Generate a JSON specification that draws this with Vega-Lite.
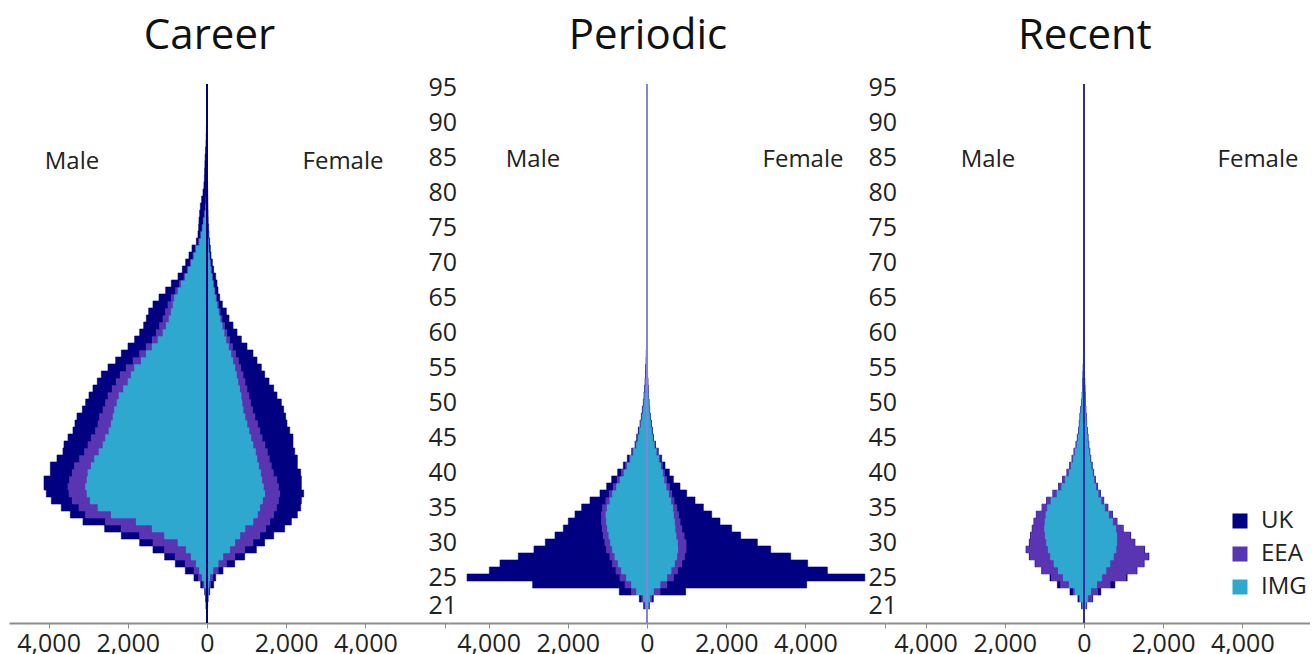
{
  "$schema": "https://vega.github.io/schema/vega-lite/v6.json",
  "background": "white",
  "padding": {"left": 9, "top": 15, "right": 0, "bottom": 0},
  "bounds": "flush",
  "spacing": 0,
  "config": {
    "view": {"stroke": null},
    "font": "Open Sans",
    "axis": {"grid": false, "labelFont": "Open Sans", "labelFontSize": 25, "labelColor": "#222"},
    "title": {"font": "Open Sans", "fontSize": 42, "fontWeight": "normal", "color": "#111"}
  },
  "resolve": {"scale": {"x": "independent", "y": "independent", "color": "shared", "stroke": "shared"}, "axis": {"x": "independent", "y": "independent"}},
  "datasets": {
    "career": [
      {"age":21,"sex":"M","IMG":-10,"EEA":-5,"UK":-10},{"age":22,"sex":"M","IMG":-15,"EEA":-8,"UK":-11},{"age":23,"sex":"M","IMG":-17,"EEA":-17,"UK":-25},{"age":24,"sex":"M","IMG":-59,"EEA":-42,"UK":-59},{"age":25,"sex":"M","IMG":-118,"EEA":-92,"UK":-118},{"age":26,"sex":"M","IMG":-185,"EEA":-143,"UK":-219},{"age":27,"sex":"M","IMG":-269,"EEA":-278,"UK":-253},{"age":28,"sex":"M","IMG":-396,"EEA":-404,"UK":-269},{"age":29,"sex":"M","IMG":-522,"EEA":-547,"UK":-295},{"age":30,"sex":"M","IMG":-732,"EEA":-632,"UK":-336},{"age":31,"sex":"M","IMG":-1069,"EEA":-631,"UK":-463},{"age":32,"sex":"M","IMG":-1381,"EEA":-782,"UK":-421},{"age":33,"sex":"M","IMG":-1785,"EEA":-774,"UK":-572},{"age":34,"sex":"M","IMG":-2416,"EEA":-648,"UK":-387},{"age":35,"sex":"M","IMG":-2753,"EEA":-480,"UK":-446},{"age":36,"sex":"M","IMG":-2946,"EEA":-455,"UK":-530},{"age":37,"sex":"M","IMG":-3030,"EEA":-455,"UK":-572},{"age":38,"sex":"M","IMG":-3064,"EEA":-446,"UK":-606},{"age":39,"sex":"M","IMG":-3030,"EEA":-438,"UK":-648},{"age":40,"sex":"M","IMG":-3005,"EEA":-396,"UK":-555},{"age":41,"sex":"M","IMG":-2921,"EEA":-421,"UK":-614},{"age":42,"sex":"M","IMG":-2837,"EEA":-379,"UK":-572},{"age":43,"sex":"M","IMG":-2727,"EEA":-362,"UK":-548},{"age":44,"sex":"M","IMG":-2626,"EEA":-379,"UK":-606},{"age":45,"sex":"M","IMG":-2559,"EEA":-362,"UK":-589},{"age":46,"sex":"M","IMG":-2475,"EEA":-337,"UK":-572},{"age":47,"sex":"M","IMG":-2416,"EEA":-337,"UK":-581},{"age":48,"sex":"M","IMG":-2374,"EEA":-337,"UK":-572},{"age":49,"sex":"M","IMG":-2332,"EEA":-294,"UK":-522},{"age":50,"sex":"M","IMG":-2273,"EEA":-286,"UK":-505},{"age":51,"sex":"M","IMG":-2222,"EEA":-278,"UK":-480},{"age":52,"sex":"M","IMG":-2105,"EEA":-286,"UK":-488},{"age":53,"sex":"M","IMG":-1995,"EEA":-295,"UK":-480},{"age":54,"sex":"M","IMG":-1911,"EEA":-278,"UK":-480},{"age":55,"sex":"M","IMG":-1827,"EEA":-210,"UK":-463},{"age":56,"sex":"M","IMG":-1658,"EEA":-211,"UK":-438},{"age":57,"sex":"M","IMG":-1532,"EEA":-168,"UK":-463},{"age":58,"sex":"M","IMG":-1381,"EEA":-151,"UK":-463},{"age":59,"sex":"M","IMG":-1237,"EEA":-144,"UK":-446},{"age":60,"sex":"M","IMG":-1111,"EEA":-169,"UK":-420},{"age":61,"sex":"M","IMG":-1027,"EEA":-168,"UK":-404},{"age":62,"sex":"M","IMG":-960,"EEA":-151,"UK":-421},{"age":63,"sex":"M","IMG":-901,"EEA":-143,"UK":-429},{"age":64,"sex":"M","IMG":-859,"EEA":-126,"UK":-379},{"age":65,"sex":"M","IMG":-817,"EEA":-84,"UK":-311},{"age":66,"sex":"M","IMG":-732,"EEA":-59,"UK":-253},{"age":67,"sex":"M","IMG":-648,"EEA":-42,"UK":-211},{"age":68,"sex":"M","IMG":-547,"EEA":-34,"UK":-151},{"age":69,"sex":"M","IMG":-471,"EEA":-26,"UK":-126},{"age":70,"sex":"M","IMG":-396,"EEA":-25,"UK":-118},{"age":71,"sex":"M","IMG":-328,"EEA":-26,"UK":-101},{"age":72,"sex":"M","IMG":-269,"EEA":-26,"UK":-84},{"age":73,"sex":"M","IMG":-185,"EEA":-25,"UK":-59},{"age":74,"sex":"M","IMG":-143,"EEA":-17,"UK":-67},{"age":75,"sex":"M","IMG":-109,"EEA":-17,"UK":-84},{"age":76,"sex":"M","IMG":-84,"EEA":-9,"UK":-109},{"age":77,"sex":"M","IMG":-51,"EEA":-16,"UK":-118},{"age":78,"sex":"M","IMG":-25,"EEA":-17,"UK":-126},{"age":79,"sex":"M","IMG":-17,"EEA":-8,"UK":-110},{"age":80,"sex":"M","IMG":-8,"EEA":-8,"UK":-85},{"age":81,"sex":"M","IMG":-5,"EEA":-3,"UK":-70},{"age":82,"sex":"M","IMG":-4,"EEA":-2,"UK":-60},{"age":83,"sex":"M","IMG":-3,"EEA":-2,"UK":-55},{"age":84,"sex":"M","IMG":-2,"EEA":-1,"UK":-50},{"age":85,"sex":"M","IMG":-2,"EEA":-1,"UK":-45},{"age":86,"sex":"M","IMG":-1,"EEA":-1,"UK":-35},{"age":87,"sex":"M","IMG":-1,"EEA":0,"UK":-25},{"age":88,"sex":"M","IMG":0,"EEA":0,"UK":-20},{"age":89,"sex":"M","IMG":0,"EEA":0,"UK":-15},{"age":90,"sex":"M","IMG":0,"EEA":0,"UK":-12},{"age":91,"sex":"M","IMG":0,"EEA":0,"UK":-10},{"age":92,"sex":"M","IMG":0,"EEA":0,"UK":-8},{"age":93,"sex":"M","IMG":0,"EEA":0,"UK":-6},{"age":94,"sex":"M","IMG":0,"EEA":0,"UK":-5},{"age":95,"sex":"M","IMG":0,"EEA":0,"UK":-4},
      {"age":21,"sex":"F","IMG":8,"EEA":3,"UK":4},{"age":22,"sex":"F","IMG":15,"EEA":5,"UK":5},{"age":23,"sex":"F","IMG":30,"EEA":20,"UK":17},{"age":24,"sex":"F","IMG":40,"EEA":50,"UK":78},{"age":25,"sex":"F","IMG":70,"EEA":80,"UK":69},{"age":26,"sex":"F","IMG":150,"EEA":130,"UK":124},{"age":27,"sex":"F","IMG":280,"EEA":210,"UK":209},{"age":28,"sex":"F","IMG":400,"EEA":300,"UK":251},{"age":29,"sex":"F","IMG":570,"EEA":380,"UK":296},{"age":30,"sex":"F","IMG":700,"EEA":460,"UK":296},{"age":31,"sex":"F","IMG":830,"EEA":500,"UK":354},{"age":32,"sex":"F","IMG":960,"EEA":520,"UK":481},{"age":33,"sex":"F","IMG":1160,"EEA":425,"UK":545},{"age":34,"sex":"F","IMG":1270,"EEA":410,"UK":601},{"age":35,"sex":"F","IMG":1330,"EEA":420,"UK":615},{"age":36,"sex":"F","IMG":1400,"EEA":400,"UK":582},{"age":37,"sex":"F","IMG":1456,"EEA":379,"UK":606},{"age":38,"sex":"F","IMG":1420,"EEA":380,"UK":582},{"age":39,"sex":"F","IMG":1380,"EEA":380,"UK":622},{"age":40,"sex":"F","IMG":1350,"EEA":320,"UK":695},{"age":41,"sex":"F","IMG":1300,"EEA":320,"UK":661},{"age":42,"sex":"F","IMG":1260,"EEA":310,"UK":711},{"age":43,"sex":"F","IMG":1220,"EEA":300,"UK":694},{"age":44,"sex":"F","IMG":1160,"EEA":300,"UK":712},{"age":45,"sex":"F","IMG":1110,"EEA":280,"UK":782},{"age":46,"sex":"F","IMG":1060,"EEA":270,"UK":758},{"age":47,"sex":"F","IMG":1010,"EEA":260,"UK":750},{"age":48,"sex":"F","IMG":960,"EEA":250,"UK":777},{"age":49,"sex":"F","IMG":910,"EEA":240,"UK":786},{"age":50,"sex":"F","IMG":880,"EEA":220,"UK":777},{"age":51,"sex":"F","IMG":860,"EEA":200,"UK":708},{"age":52,"sex":"F","IMG":820,"EEA":190,"UK":674},{"age":53,"sex":"F","IMG":780,"EEA":180,"UK":606},{"age":54,"sex":"F","IMG":740,"EEA":170,"UK":546},{"age":55,"sex":"F","IMG":700,"EEA":150,"UK":522},{"age":56,"sex":"F","IMG":650,"EEA":140,"UK":473},{"age":57,"sex":"F","IMG":600,"EEA":120,"UK":442},{"age":58,"sex":"F","IMG":540,"EEA":100,"UK":370},{"age":59,"sex":"F","IMG":480,"EEA":90,"UK":297},{"age":60,"sex":"F","IMG":430,"EEA":70,"UK":258},{"age":61,"sex":"F","IMG":380,"EEA":60,"UK":217},{"age":62,"sex":"F","IMG":330,"EEA":50,"UK":176},{"age":63,"sex":"F","IMG":290,"EEA":40,"UK":158},{"age":64,"sex":"F","IMG":250,"EEA":35,"UK":102},{"age":65,"sex":"F","IMG":210,"EEA":30,"UK":80},{"age":66,"sex":"F","IMG":180,"EEA":20,"UK":78},{"age":67,"sex":"F","IMG":150,"EEA":20,"UK":83},{"age":68,"sex":"F","IMG":120,"EEA":15,"UK":84},{"age":69,"sex":"F","IMG":95,"EEA":10,"UK":63},{"age":70,"sex":"F","IMG":75,"EEA":7,"UK":53},{"age":71,"sex":"F","IMG":55,"EEA":5,"UK":41},{"age":72,"sex":"F","IMG":40,"EEA":4,"UK":40},{"age":73,"sex":"F","IMG":30,"EEA":3,"UK":34},{"age":74,"sex":"F","IMG":20,"EEA":2,"UK":28},{"age":75,"sex":"F","IMG":12,"EEA":2,"UK":26},{"age":76,"sex":"F","IMG":5,"EEA":1,"UK":24},{"age":77,"sex":"F","IMG":4,"EEA":1,"UK":22},{"age":78,"sex":"F","IMG":3,"EEA":1,"UK":20},{"age":79,"sex":"F","IMG":2,"EEA":1,"UK":18},{"age":80,"sex":"F","IMG":2,"EEA":0,"UK":16},{"age":81,"sex":"F","IMG":1,"EEA":0,"UK":14},{"age":82,"sex":"F","IMG":1,"EEA":0,"UK":12},{"age":83,"sex":"F","IMG":0,"EEA":0,"UK":10},{"age":84,"sex":"F","IMG":0,"EEA":0,"UK":9},{"age":85,"sex":"F","IMG":0,"EEA":0,"UK":8},{"age":86,"sex":"F","IMG":0,"EEA":0,"UK":7},{"age":87,"sex":"F","IMG":0,"EEA":0,"UK":5},{"age":88,"sex":"F","IMG":0,"EEA":0,"UK":4},{"age":89,"sex":"F","IMG":0,"EEA":0,"UK":3},{"age":90,"sex":"F","IMG":0,"EEA":0,"UK":3},{"age":91,"sex":"F","IMG":0,"EEA":0,"UK":2},{"age":92,"sex":"F","IMG":0,"EEA":0,"UK":2},{"age":93,"sex":"F","IMG":0,"EEA":0,"UK":2},{"age":94,"sex":"F","IMG":0,"EEA":0,"UK":2},{"age":95,"sex":"F","IMG":0,"EEA":0,"UK":2}
    ],
    "periodic": [
      {"age":21,"sex":"M","IMG":-40,"EEA":-15,"UK":-30},{"age":22,"sex":"M","IMG":-90,"EEA":-40,"UK":-64},{"age":23,"sex":"M","IMG":-261,"EEA":-127,"UK":-311},{"age":24,"sex":"M","IMG":-388,"EEA":-168,"UK":-2331},{"age":25,"sex":"M","IMG":-514,"EEA":-169,"UK":-3861},{"age":26,"sex":"M","IMG":-641,"EEA":-143,"UK":-3197},{"age":27,"sex":"M","IMG":-725,"EEA":-143,"UK":-2844},{"age":28,"sex":"M","IMG":-809,"EEA":-127,"UK":-2314},{"age":29,"sex":"M","IMG":-868,"EEA":-152,"UK":-1834},{"age":30,"sex":"M","IMG":-919,"EEA":-143,"UK":-1505},{"age":31,"sex":"M","IMG":-961,"EEA":-143,"UK":-1219},{"age":32,"sex":"M","IMG":-995,"EEA":-135,"UK":-983},{"age":33,"sex":"M","IMG":-1020,"EEA":-126,"UK":-841},{"age":34,"sex":"M","IMG":-1037,"EEA":-109,"UK":-672},{"age":35,"sex":"M","IMG":-1003,"EEA":-118,"UK":-529},{"age":36,"sex":"M","IMG":-936,"EEA":-101,"UK":-402},{"age":37,"sex":"M","IMG":-868,"EEA":-85,"UK":-234},{"age":38,"sex":"M","IMG":-766,"EEA":-84,"UK":-168},{"age":39,"sex":"M","IMG":-682,"EEA":-67,"UK":-143},{"age":40,"sex":"M","IMG":-581,"EEA":-59,"UK":-100},{"age":41,"sex":"M","IMG":-497,"EEA":-42,"UK":-59},{"age":42,"sex":"M","IMG":-412,"EEA":-34,"UK":-51},{"age":43,"sex":"M","IMG":-337,"EEA":-25,"UK":-25},{"age":44,"sex":"M","IMG":-261,"EEA":-25,"UK":-17},{"age":45,"sex":"M","IMG":-220,"EEA":-16,"UK":-25},{"age":46,"sex":"M","IMG":-185,"EEA":-14,"UK":-20},{"age":47,"sex":"M","IMG":-150,"EEA":-12,"UK":-15},{"age":48,"sex":"M","IMG":-120,"EEA":-10,"UK":-13},{"age":49,"sex":"M","IMG":-95,"EEA":-8,"UK":-15},{"age":50,"sex":"M","IMG":-75,"EEA":-6,"UK":-12},{"age":51,"sex":"M","IMG":-60,"EEA":-5,"UK":-11},{"age":52,"sex":"M","IMG":-45,"EEA":-4,"UK":-10},{"age":53,"sex":"M","IMG":-35,"EEA":-3,"UK":-12},{"age":54,"sex":"M","IMG":-25,"EEA":-2,"UK":-12},{"age":55,"sex":"M","IMG":-18,"EEA":-2,"UK":-12},{"age":56,"sex":"M","IMG":-12,"EEA":-1,"UK":-12},{"age":57,"sex":"M","IMG":-8,"EEA":-1,"UK":-10},{"age":58,"sex":"M","IMG":-4,"EEA":-1,"UK":-6},{"age":59,"sex":"M","IMG":-2,"EEA":0,"UK":-3},
      {"age":21,"sex":"F","IMG":30,"EEA":10,"UK":20},{"age":22,"sex":"F","IMG":76,"EEA":42,"UK":42},{"age":23,"sex":"F","IMG":160,"EEA":169,"UK":647},{"age":24,"sex":"F","IMG":329,"EEA":168,"UK":3535},{"age":25,"sex":"F","IMG":497,"EEA":169,"UK":4834},{"age":26,"sex":"F","IMG":607,"EEA":160,"UK":3787},{"age":27,"sex":"F","IMG":691,"EEA":186,"UK":3180},{"age":28,"sex":"F","IMG":750,"EEA":194,"UK":2684},{"age":29,"sex":"F","IMG":776,"EEA":210,"UK":2137},{"age":30,"sex":"F","IMG":767,"EEA":219,"UK":1800},{"age":31,"sex":"F","IMG":733,"EEA":203,"UK":1429},{"age":32,"sex":"F","IMG":708,"EEA":169,"UK":1261},{"age":33,"sex":"F","IMG":691,"EEA":144,"UK":1008},{"age":34,"sex":"F","IMG":666,"EEA":127,"UK":840},{"age":35,"sex":"F","IMG":649,"EEA":101,"UK":673},{"age":36,"sex":"F","IMG":599,"EEA":84,"UK":529},{"age":37,"sex":"F","IMG":540,"EEA":84,"UK":378},{"age":38,"sex":"F","IMG":481,"EEA":84,"UK":268},{"age":39,"sex":"F","IMG":430,"EEA":67,"UK":168},{"age":40,"sex":"F","IMG":388,"EEA":50,"UK":126},{"age":41,"sex":"F","IMG":340,"EEA":45,"UK":70},{"age":42,"sex":"F","IMG":290,"EEA":40,"UK":40},{"age":43,"sex":"F","IMG":230,"EEA":30,"UK":25},{"age":44,"sex":"F","IMG":180,"EEA":20,"UK":15},{"age":45,"sex":"F","IMG":140,"EEA":15,"UK":10},{"age":46,"sex":"F","IMG":115,"EEA":10,"UK":10},{"age":47,"sex":"F","IMG":92,"EEA":8,"UK":10},{"age":48,"sex":"F","IMG":70,"EEA":6,"UK":8},{"age":49,"sex":"F","IMG":55,"EEA":5,"UK":7},{"age":50,"sex":"F","IMG":40,"EEA":4,"UK":6},{"age":51,"sex":"F","IMG":30,"EEA":3,"UK":5},{"age":52,"sex":"F","IMG":22,"EEA":2,"UK":5},{"age":53,"sex":"F","IMG":15,"EEA":1,"UK":5},{"age":54,"sex":"F","IMG":10,"EEA":1,"UK":4},{"age":55,"sex":"F","IMG":6,"EEA":1,"UK":4},{"age":56,"sex":"F","IMG":3,"EEA":0,"UK":3},{"age":57,"sex":"F","IMG":2,"EEA":0,"UK":2}
    ],
    "recent": [
      {"age":21,"sex":"M","IMG":-30,"EEA":-20,"UK":-10},{"age":22,"sex":"M","IMG":-101,"EEA":-22,"UK":-30},{"age":23,"sex":"M","IMG":-227,"EEA":-47,"UK":-80},{"age":24,"sex":"M","IMG":-370,"EEA":-223,"UK":-80},{"age":25,"sex":"M","IMG":-522,"EEA":-297,"UK":-40},{"age":26,"sex":"M","IMG":-648,"EEA":-396,"UK":-25},{"age":27,"sex":"M","IMG":-758,"EEA":-459,"UK":-20},{"age":28,"sex":"M","IMG":-842,"EEA":-519,"UK":-20},{"age":29,"sex":"M","IMG":-901,"EEA":-549,"UK":-15},{"age":30,"sex":"M","IMG":-943,"EEA":-423,"UK":-15},{"age":31,"sex":"M","IMG":-976,"EEA":-359,"UK":-15},{"age":32,"sex":"M","IMG":-993,"EEA":-302,"UK":-15},{"age":33,"sex":"M","IMG":-985,"EEA":-268,"UK":-12},{"age":34,"sex":"M","IMG":-960,"EEA":-233,"UK":-12},{"age":35,"sex":"M","IMG":-918,"EEA":-132,"UK":-10},{"age":36,"sex":"M","IMG":-830,"EEA":-103,"UK":-10},{"age":37,"sex":"M","IMG":-680,"EEA":-97,"UK":-8},{"age":38,"sex":"M","IMG":-560,"EEA":-72,"UK":-8},{"age":39,"sex":"M","IMG":-470,"EEA":-64,"UK":-6},{"age":40,"sex":"M","IMG":-375,"EEA":-49,"UK":-6},{"age":41,"sex":"M","IMG":-320,"EEA":-35,"UK":-5},{"age":42,"sex":"M","IMG":-265,"EEA":-31,"UK":-4},{"age":43,"sex":"M","IMG":-220,"EEA":-26,"UK":-4},{"age":44,"sex":"M","IMG":-175,"EEA":-22,"UK":-3},{"age":45,"sex":"M","IMG":-147,"EEA":-18,"UK":-3},{"age":46,"sex":"M","IMG":-118,"EEA":-14,"UK":-3},{"age":47,"sex":"M","IMG":-103,"EEA":-12,"UK":-3},{"age":48,"sex":"M","IMG":-87,"EEA":-10,"UK":-3},{"age":49,"sex":"M","IMG":-69,"EEA":-8,"UK":-3},{"age":50,"sex":"M","IMG":-51,"EEA":-6,"UK":-3},{"age":51,"sex":"M","IMG":-37,"EEA":-5,"UK":-3},{"age":52,"sex":"M","IMG":-28,"EEA":-4,"UK":-3},{"age":53,"sex":"M","IMG":-22,"EEA":-3,"UK":-3},{"age":54,"sex":"M","IMG":-17,"EEA":-2,"UK":-3},{"age":55,"sex":"M","IMG":-13,"EEA":-2,"UK":-3},{"age":56,"sex":"M","IMG":-10,"EEA":-2,"UK":-2},{"age":57,"sex":"M","IMG":-7,"EEA":-1,"UK":-2},{"age":58,"sex":"M","IMG":-5,"EEA":-1,"UK":-1},{"age":59,"sex":"M","IMG":-3,"EEA":-1,"UK":-1},{"age":60,"sex":"M","IMG":-2,"EEA":-1,"UK":-1},
      {"age":21,"sex":"F","IMG":40,"EEA":17,"UK":10},{"age":22,"sex":"F","IMG":84,"EEA":115,"UK":20},{"age":23,"sex":"F","IMG":168,"EEA":177,"UK":80},{"age":24,"sex":"F","IMG":320,"EEA":340,"UK":120},{"age":25,"sex":"F","IMG":446,"EEA":614,"UK":30},{"age":26,"sex":"F","IMG":556,"EEA":764,"UK":20},{"age":27,"sex":"F","IMG":657,"EEA":843,"UK":20},{"age":28,"sex":"F","IMG":741,"EEA":879,"UK":20},{"age":29,"sex":"F","IMG":808,"EEA":707,"UK":15},{"age":30,"sex":"F","IMG":825,"EEA":448,"UK":15},{"age":31,"sex":"F","IMG":825,"EEA":340,"UK":15},{"age":32,"sex":"F","IMG":800,"EEA":178,"UK":12},{"age":33,"sex":"F","IMG":720,"EEA":103,"UK":12},{"age":34,"sex":"F","IMG":620,"EEA":90,"UK":10},{"age":35,"sex":"F","IMG":520,"EEA":75,"UK":10},{"age":36,"sex":"F","IMG":430,"EEA":62,"UK":8},{"age":37,"sex":"F","IMG":355,"EEA":52,"UK":8},{"age":38,"sex":"F","IMG":295,"EEA":44,"UK":6},{"age":39,"sex":"F","IMG":250,"EEA":34,"UK":6},{"age":40,"sex":"F","IMG":210,"EEA":30,"UK":5},{"age":41,"sex":"F","IMG":175,"EEA":26,"UK":4},{"age":42,"sex":"F","IMG":145,"EEA":21,"UK":4},{"age":43,"sex":"F","IMG":124,"EEA":18,"UK":3},{"age":44,"sex":"F","IMG":102,"EEA":15,"UK":3},{"age":45,"sex":"F","IMG":85,"EEA":12,"UK":3},{"age":46,"sex":"F","IMG":71,"EEA":10,"UK":3},{"age":47,"sex":"F","IMG":56,"EEA":8,"UK":3},{"age":48,"sex":"F","IMG":45,"EEA":7,"UK":3},{"age":49,"sex":"F","IMG":37,"EEA":5,"UK":3},{"age":50,"sex":"F","IMG":28,"EEA":4,"UK":3},{"age":51,"sex":"F","IMG":22,"EEA":3,"UK":3},{"age":52,"sex":"F","IMG":17,"EEA":2,"UK":3},{"age":53,"sex":"F","IMG":13,"EEA":2,"UK":3},{"age":54,"sex":"F","IMG":10,"EEA":1,"UK":3},{"age":55,"sex":"F","IMG":7,"EEA":1,"UK":3},{"age":56,"sex":"F","IMG":5,"EEA":1,"UK":2},{"age":57,"sex":"F","IMG":3,"EEA":1,"UK":2}
    ]
  },
  "hconcat": [
    {
      "width": 440, "height": 539,
      "title": {"text": "Career", "dx": -19.5, "offset": -8, "baseline": "alphabetic", "frame": "group", "anchor": "middle"},
      "layer": [
        {
          "data": {"name": "career"},
          "transform": [{"fold": ["UK", "EEA", "IMG"], "as": ["group", "value"]}, {"calculate": "indexof(['IMG','EEA','UK'], datum.group)", "as": "stackOrder"}],
          "mark": {"type": "bar", "strokeWidth": 0.6},
          "encoding": {
            "y": {"field": "age", "type": "ordinal", "scale": {"domain": [95,94,93,92,91,90,89,88,87,86,85,84,83,82,81,80,79,78,77,76,75,74,73,72,71,70,69,68,67,66,65,64,63,62,61,60,59,58,57,56,55,54,53,52,51,50,49,48,47,46,45,44,43,42,41,40,39,38,37,36,35,34,33,32,31,30,29,28,27,26,25,24,23,22,21,20,19], "paddingInner": 0, "paddingOuter": 0}, "axis": null},
            "x": {"field": "value", "type": "quantitative", "stack": "zero", "scale": {"domain": [-5000, 6111], "nice": false, "zero": false},
                  "axis": {"values": [-4000, -2000, 0, 2000, 4000, 6000], "labelExpr": "datum.value >= 6000 ? '' : format(abs(datum.value), ',')", "title": null, "domainColor": "#8c8c8c", "domainWidth": 2, "tickColor": "#8c8c8c", "tickSize": 5, "labelPadding": 3, "labelOverlap": false, "labelFlush": false}},
            "color": {"field": "group", "type": "nominal", "scale": {"domain": ["UK", "EEA", "IMG"], "range": ["#000080", "#5a35b3", "#2fa8d0"]},
                      "legend": {"orient": "none", "legendX": 1219, "legendY": 425, "title": null, "symbolType": "square", "symbolSize": 225, "symbolStrokeWidth": 0, "labelFont": "Open Sans", "labelFontSize": 24, "labelColor": "#222", "labelOffset": 9, "rowPadding": 9, "padding": 0}},
            "stroke": {"field": "group", "type": "nominal", "scale": {"domain": ["UK", "EEA", "IMG"], "range": ["#000080", "#5a35b3", "#2fa8d0"]}, "legend": null},
            "order": {"field": "stackOrder", "type": "quantitative"}
          }
        },
        {"data": {"values": [{}]}, "mark": {"type": "rule", "color": "#00007a", "strokeWidth": 2}, "encoding": {"x": {"datum": 0, "type": "quantitative"}}},
        {"data": {"values": [{}]}, "mark": {"type": "text", "font": "Open Sans", "fontSize": 24, "color": "#222", "dy": -3}, "encoding": {"x": {"datum": -3409, "type": "quantitative"}, "y": {"datum": 84, "type": "ordinal"}, "text": {"value": "Male"}}},
        {"data": {"values": [{}]}, "mark": {"type": "text", "font": "Open Sans", "fontSize": 24, "color": "#222", "dy": -3}, "encoding": {"x": {"datum": 3434, "type": "quantitative"}, "y": {"datum": 84, "type": "ordinal"}, "text": {"value": "Female"}}}
      ]
    },
    {
      "width": 437, "height": 539,
      "title": {"text": "Periodic", "dx": -19.5, "offset": -16, "baseline": "alphabetic", "frame": "group", "anchor": "middle"},
      "layer": [
        {
          "data": {"name": "periodic"},
          "transform": [{"fold": ["UK", "EEA", "IMG"], "as": ["group", "value"]}, {"calculate": "indexof(['IMG','EEA','UK'], datum.group)", "as": "stackOrder"}],
          "mark": {"type": "bar", "strokeWidth": 0.6},
          "encoding": {
            "y": {"field": "age", "type": "ordinal", "scale": {"domain": [95,94,93,92,91,90,89,88,87,86,85,84,83,82,81,80,79,78,77,76,75,74,73,72,71,70,69,68,67,66,65,64,63,62,61,60,59,58,57,56,55,54,53,52,51,50,49,48,47,46,45,44,43,42,41,40,39,38,37,36,35,34,33,32,31,30,29,28,27,26,25,24,23,22,21,20,19], "paddingInner": 0, "paddingOuter": 0},
                  "axis": {"values": [21,25,30,35,40,45,50,55,60,65,70,75,80,85,90,95], "title": null, "domain": false, "ticks": false, "tickSize": 0, "labelAlign": "left", "labelPadding": 21, "bandPosition": 1, "labelBaseline": "middle", "labelOverlap": false}},
            "x": {"field": "value", "type": "quantitative", "stack": "zero", "scale": {"domain": [-5000, 6035], "nice": false, "zero": false},
                  "axis": {"values": [-4000, -2000, 0, 2000, 4000, 6000], "labelExpr": "datum.value >= 6000 ? '' : format(abs(datum.value), ',')", "title": null, "domainColor": "#8c8c8c", "domainWidth": 2, "tickColor": "#8c8c8c", "tickSize": 5, "labelPadding": 3, "labelOverlap": false, "labelFlush": false}},
            "color": {"field": "group", "type": "nominal", "scale": {"domain": ["UK", "EEA", "IMG"], "range": ["#000080", "#5a35b3", "#2fa8d0"]},
                      "legend": {"orient": "none", "legendX": 1219, "legendY": 425, "title": null, "symbolType": "square", "symbolSize": 225, "symbolStrokeWidth": 0, "labelFont": "Open Sans", "labelFontSize": 24, "labelColor": "#222", "labelOffset": 9, "rowPadding": 9, "padding": 0}},
            "stroke": {"field": "group", "type": "nominal", "scale": {"domain": ["UK", "EEA", "IMG"], "range": ["#000080", "#5a35b3", "#2fa8d0"]}, "legend": null},
            "order": {"field": "stackOrder", "type": "quantitative"}
          }
        },
        {"data": {"values": [{}]}, "mark": {"type": "rule", "color": "#8585d8", "strokeWidth": 2}, "encoding": {"x": {"datum": 0, "type": "quantitative"}}},
        {"data": {"values": [{}]}, "mark": {"type": "text", "font": "Open Sans", "fontSize": 24, "color": "#222", "dy": -5}, "encoding": {"x": {"datum": -2879, "type": "quantitative"}, "y": {"datum": 84, "type": "ordinal"}, "text": {"value": "Male"}}},
        {"data": {"values": [{}]}, "mark": {"type": "text", "font": "Open Sans", "fontSize": 24, "color": "#222", "dy": -5}, "encoding": {"x": {"datum": 3939, "type": "quantitative"}, "y": {"datum": 84, "type": "ordinal"}, "text": {"value": "Female"}}}
      ]
    },
    {
      "width": 423.7, "height": 539,
      "title": {"text": "Recent", "dx": -13, "offset": -16, "baseline": "alphabetic", "frame": "group", "anchor": "middle"},
      "layer": [
        {
          "data": {"name": "recent"},
          "transform": [{"fold": ["UK", "EEA", "IMG"], "as": ["group", "value"]}, {"calculate": "indexof(['IMG','EEA','UK'], datum.group)", "as": "stackOrder"}],
          "mark": {"type": "bar", "strokeWidth": 0.6},
          "encoding": {
            "y": {"field": "age", "type": "ordinal", "scale": {"domain": [95,94,93,92,91,90,89,88,87,86,85,84,83,82,81,80,79,78,77,76,75,74,73,72,71,70,69,68,67,66,65,64,63,62,61,60,59,58,57,56,55,54,53,52,51,50,49,48,47,46,45,44,43,42,41,40,39,38,37,36,35,34,33,32,31,30,29,28,27,26,25,24,23,22,21,20,19], "paddingInner": 0, "paddingOuter": 0},
                  "axis": {"values": [21,25,30,35,40,45,50,55,60,65,70,75,80,85,90,95], "title": null, "domain": false, "ticks": false, "tickSize": 0, "labelAlign": "left", "labelPadding": 18, "bandPosition": 1, "labelBaseline": "middle", "labelOverlap": false}},
            "x": {"field": "value", "type": "quantitative", "stack": "zero", "scale": {"domain": [-5000, 5700], "nice": false, "zero": false},
                  "axis": {"values": [-4000, -2000, 0, 2000, 4000], "labelExpr": "format(abs(datum.value), ',')", "title": null, "domainColor": "#8c8c8c", "domainWidth": 2, "tickColor": "#8c8c8c", "tickSize": 5, "labelPadding": 3, "labelOverlap": false, "labelFlush": false}},
            "color": {"field": "group", "type": "nominal", "scale": {"domain": ["UK", "EEA", "IMG"], "range": ["#000080", "#5a35b3", "#2fa8d0"]},
                      "legend": {"orient": "none", "legendX": 1219, "legendY": 425, "title": null, "symbolType": "square", "symbolSize": 225, "symbolStrokeWidth": 0, "labelFont": "Open Sans", "labelFontSize": 24, "labelColor": "#222", "labelOffset": 9, "rowPadding": 9, "padding": 0}},
            "stroke": {"field": "group", "type": "nominal", "scale": {"domain": ["UK", "EEA", "IMG"], "range": ["#000080", "#5a35b3", "#2fa8d0"]}, "legend": null},
            "order": {"field": "stackOrder", "type": "quantitative"}
          }
        },
        {"data": {"values": [{}]}, "mark": {"type": "rule", "color": "#2b2ba5", "strokeWidth": 2}, "encoding": {"x": {"datum": 0, "type": "quantitative"}}},
        {"data": {"values": [{}]}, "mark": {"type": "text", "font": "Open Sans", "fontSize": 24, "color": "#222", "dy": -5}, "encoding": {"x": {"datum": -2424, "type": "quantitative"}, "y": {"datum": 84, "type": "ordinal"}, "text": {"value": "Male"}}},
        {"data": {"values": [{}]}, "mark": {"type": "text", "font": "Open Sans", "fontSize": 24, "color": "#222", "dy": -5}, "encoding": {"x": {"datum": 4394, "type": "quantitative"}, "y": {"datum": 84, "type": "ordinal"}, "text": {"value": "Female"}}}
      ]
    }
  ]
}
